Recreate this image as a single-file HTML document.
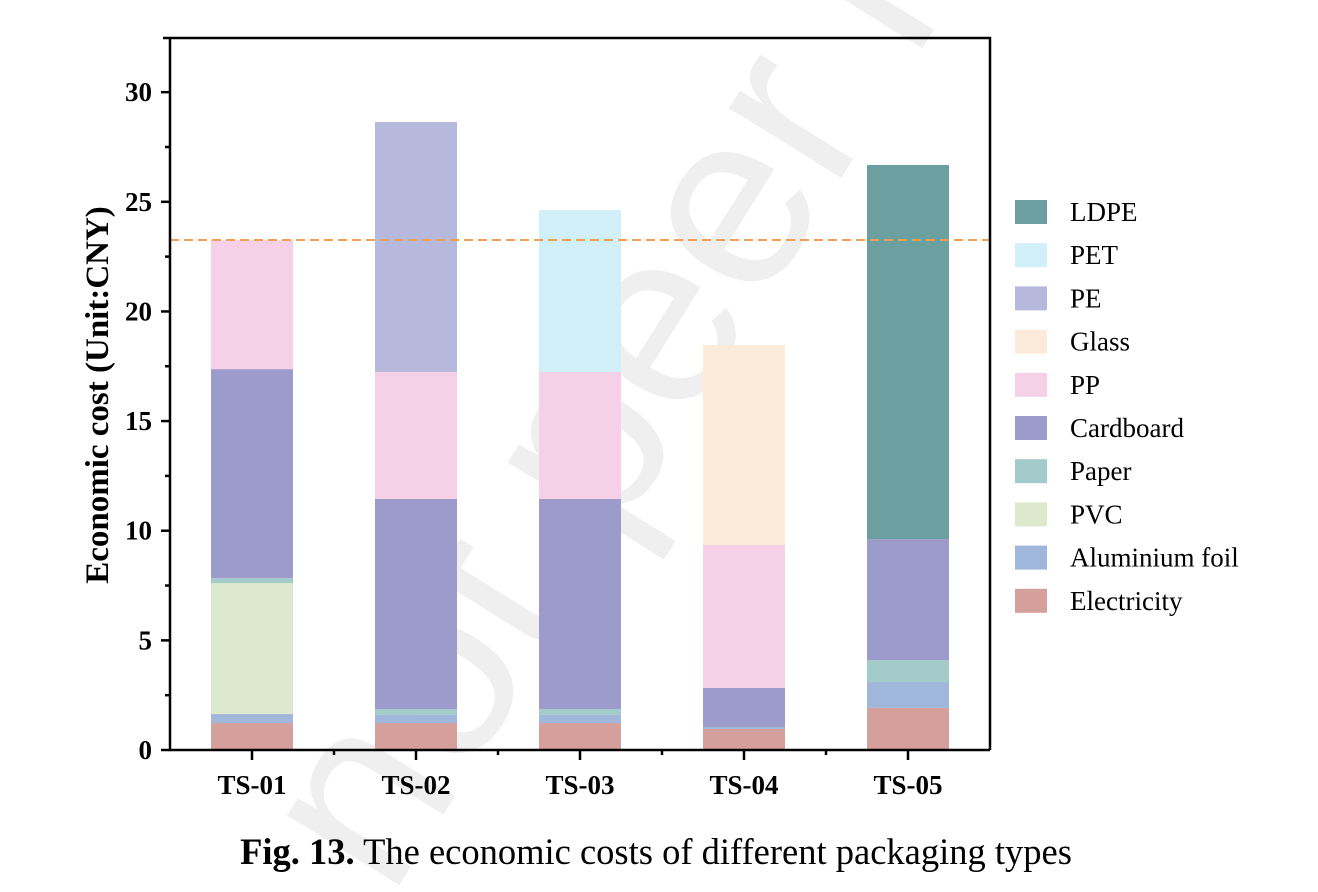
<!DOCTYPE html>
<html><head><meta charset="utf-8"><style>
body{margin:0;background:#fff;width:1318px;height:892px;overflow:hidden;font-family:"Liberation Serif",serif;}
svg{position:absolute;left:0;top:0}
</style></head><body>
<svg id="chart" width="1318" height="892"></svg>
<script>
const categories=["TS-01","TS-02","TS-03","TS-04","TS-05"];
const seriesNames=["Electricity","Aluminium foil","PVC","Paper","Cardboard","PP","Glass","PE","PET","LDPE"];
const seriesColors=["#d5a09b","#a0b7db","#dde8cc","#a3cbc9","#9c9bcb","#f6d0e6","#fcebda","#b7b9dc","#d0eff8","#6c9fa0"];
const electricity=[1.23,1.23,1.23,0.96,1.92];
const aluminium=[0.41,0.37,0.37,0.09,1.18];
const pvc=[5.97,0,0,0,0];
const paper=[0.23,0.27,0.27,0,1.0];
const cardboard=[9.53,9.58,9.58,1.78,5.52];
const pp=[5.88,5.79,5.79,6.52,0];
const glass=[0,0,0,9.12,0];
const pe=[0,11.4,0,0,0];
const pet=[0,0,7.38,0,0];
const ldpe=[0,0,0,0,17.06];
const refLine=23.26;
const yTicks=[0,5,10,15,20,25,30];
const legendOrder=["LDPE","PET","PE","Glass","PP","Cardboard","Paper","PVC","Aluminium foil","Electricity"];

const series=[electricity,aluminium,pvc,paper,cardboard,pp,glass,pe,pet,ldpe];
const NS="http://www.w3.org/2000/svg";
const svg=document.getElementById('chart');
const L=170,R=990,T=38,B=750,yMax=32.47;
const y=v=>B-v/yMax*(B-T);
const xc=i=>L+(R-L)/categories.length*(i+0.5);
const bw=82;
function mk(tag,attrs,parent){const e=document.createElementNS(NS,tag);for(const k in attrs)e.setAttribute(k,attrs[k]);(parent||svg).appendChild(e);return e;}

// watermark
const wm=mk('text',{x:0,y:0,transform:'translate(390,900) rotate(-58)','font-size':'250','font-family':'Liberation Sans, sans-serif',fill:'#efefef'});


wm.textContent='not peer r';

// bars
categories.forEach((c,i)=>{
  let acc=0;
  series.forEach((s,k)=>{
    const v=s[i];if(v<=0)return;
    const r=mk('rect',{x:xc(i)-bw/2,y:y(acc+v),width:bw,height:y(acc)-y(acc+v),fill:seriesColors[k]});
    
    
    acc+=v;
  });
});

// reference line
const rl=mk('line',{x1:L,x2:R,y1:y(refLine),y2:y(refLine),stroke:'#f0a050','stroke-width':2,'stroke-dasharray':'9,5'});



// frame
const fr=mk('path',{d:`M${L-7} ${T}H${R}V${B}M${L} ${T}V${B}H${R}`,fill:'none',stroke:'#000','stroke-width':2.5});



// y ticks
yTicks.forEach(t=>{
  mk('line',{x1:L-9,x2:L,y1:y(t),y2:y(t),stroke:'#000','stroke-width':2.5});
  const tx=mk('text',{x:L-18,y:y(t)+9,'text-anchor':'end','font-size':27,'font-weight':'bold'});
  
  
  tx.textContent=t;
  if(t<30){mk('line',{x1:L-5,x2:L,y1:y(t+2.5),y2:y(t+2.5),stroke:'#000','stroke-width':2.5});}
});
// x ticks
categories.forEach((c,i)=>{
  mk('line',{x1:xc(i),x2:xc(i),y1:B,y2:B+10,stroke:'#000','stroke-width':2.5});
  if(i<categories.length-1)mk('line',{x1:xc(i)+(R-L)/10,x2:xc(i)+(R-L)/10,y1:B,y2:B+5,stroke:'#000','stroke-width':2.5});
  const tx=mk('text',{x:xc(i),y:B+44,'text-anchor':'middle','font-size':27,'font-weight':'bold'});
  
  
  tx.textContent=c;
});
const yt=mk('text',{x:0,y:0,transform:'translate(108,395) rotate(-90)','text-anchor':'middle','font-size':33,'font-weight':'bold'});


yt.textContent='Economic cost (Unit:CNY)';

// legend
legendOrder.forEach((n,j)=>{
  const k=seriesNames.indexOf(n);
  const yy=212+j*43.2;
  const g=mk('g',{});
  
  
  mk('rect',{x:1015,y:yy-12,width:32,height:24,fill:seriesColors[k]},g);
  const tx=mk('text',{x:1070,y:yy+9,'font-size':27},g);
  tx.textContent=n;
});

// caption
const cap=mk('text',{x:656,y:864,'text-anchor':'middle','font-size':36.5});


const b=mk('tspan',{'font-weight':'bold'},cap);b.textContent='Fig. 13.';
const r2=mk('tspan',{},cap);r2.textContent=' The economic costs of different packaging types';
</script>
</body></html>
